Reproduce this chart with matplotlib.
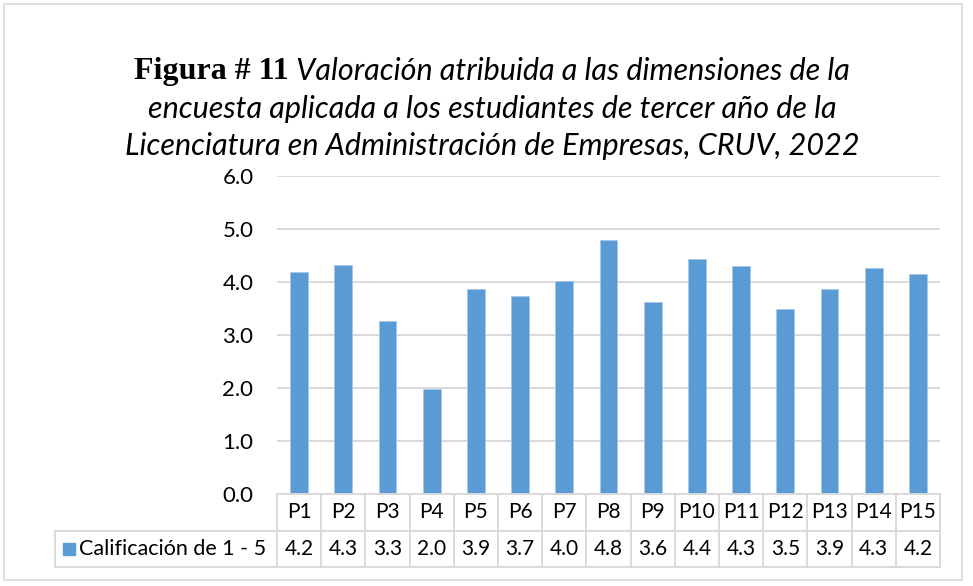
import matplotlib
matplotlib.use("Agg")
import matplotlib.pyplot as plt
import matplotlib.transforms as mtransforms
from matplotlib.lines import Line2D
from matplotlib.patches import Rectangle

# datos
preguntas = ["P1", "P2", "P3", "P4", "P5", "P6", "P7", "P8", "P9", "P10",
             "P11", "P12", "P13", "P14", "P15"]
calificacion = [4.18, 4.32, 3.26, 1.99, 3.87, 3.73, 4.02, 4.80, 3.62, 4.43,
                4.30, 3.50, 3.86, 4.26, 4.16]
serie = "Calificación de 1 - 5"
titulo_negrita = "Figura # 11"
titulo_lineas = ["Valoración atribuida a las dimensiones de la",
                 "encuesta aplicada a los estudiantes de tercer año de la",
                 "Licenciatura en Administración de Empresas, CRUV, 2022"]

W, H = 973, 586
azul = "#5B9BD5"
gris = "#D9D9D9"
fuente = "Lato"

fig = plt.figure(figsize=(W / 100, H / 100), dpi=100)
fig.patch.set_facecolor("white")

def fx(px):
    return px / W

def fy(py):
    return 1 - py / H

# marco exterior
fig.add_artist(Rectangle((fx(4), fy(580)), fx(958), 576 / H, transform=fig.transFigure,
                         fill=False, edgecolor="#D9D9D9", linewidth=1.2))

ax = fig.add_axes([fx(277), fy(494), fx(940) - fx(277), fy(176) - fy(494)])
x = list(range(len(preguntas)))
ax.bar(x, calificacion, width=0.40, color=azul, edgecolor="#A9C8EA", linewidth=0.6, zorder=3)
ax.set_xlim(-0.5, len(preguntas) - 0.5)
ax.set_ylim(0, 6)
ax.set_yticks([0, 1, 2, 3, 4, 5, 6])
ax.set_yticklabels([f"{v:.1f}" for v in range(7)], fontfamily=fuente, fontsize=16)
ax.tick_params(axis="y", length=0, pad=17)
ax.set_xticks([])
ax.grid(axis="y", color=gris, linewidth=1.4, zorder=0)
for s in ["top", "right", "left"]:
    ax.spines[s].set_visible(False)
ax.spines["bottom"].set_color(gris)
ax.spines["bottom"].set_linewidth(1.4)
ax.spines["bottom"].set_zorder(4)

# tabla de datos
tr = mtransforms.blended_transform_factory(ax.transData, fig.transFigure)
y_top, y_mid, y_bot = fy(494), fy(531), fy(567)
for i in range(len(preguntas) + 1):
    xb = i - 0.5
    fig.add_artist(Line2D([xb, xb], [y_top, y_bot], transform=tr, color=gris, linewidth=1.4))
fig.add_artist(Line2D([fx(55), fx(940)], [y_mid, y_mid], transform=fig.transFigure,
                      color=gris, linewidth=1.4))
fig.add_artist(Line2D([fx(55), fx(940)], [y_bot, y_bot], transform=fig.transFigure,
                      color=gris, linewidth=1.4))
fig.add_artist(Line2D([fx(55), fx(55)], [y_mid, y_bot], transform=fig.transFigure,
                      color=gris, linewidth=1.4))
for i, (p, v) in enumerate(zip(preguntas, calificacion)):
    fig.text(i, (y_top + y_mid) / 2, p, transform=tr, ha="center", va="center",
             fontfamily=fuente, fontsize=15)
    fig.text(i, (y_mid + y_bot) / 2, f"{v:.1f}", transform=tr, ha="center", va="center",
             fontfamily=fuente, fontsize=15)
fig.add_artist(Rectangle((fx(63), fy(555)), fx(12), 12 / H, transform=fig.transFigure,
                         color=azul))
fig.text(fx(79), (y_mid + y_bot) / 2, serie, ha="left", va="center",
         fontfamily=fuente, fontsize=15.5)

# titulo
cx = fx(492)
renderer = fig.canvas.get_renderer()
t1 = fig.text(0, fy(71), titulo_negrita, fontfamily="Liberation Serif", fontweight="bold",
              fontsize=23, va="center", ha="left")
t2 = fig.text(0, fy(71), " " + titulo_lineas[0], fontfamily=fuente, fontstyle="italic",
              fontsize=22, va="center", ha="left")
w1 = t1.get_window_extent(renderer).width / W
w2 = t2.get_window_extent(renderer).width / W
x0 = cx - (w1 + w2) / 2
t1.set_x(x0)
t2.set_x(x0 + w1)
fig.text(cx, fy(109), titulo_lineas[1], fontfamily=fuente, fontstyle="italic",
         fontsize=22, ha="center", va="center")
fig.text(cx, fy(146), titulo_lineas[2], fontfamily=fuente, fontstyle="italic",
         fontsize=22, ha="center", va="center")

fig.savefig("out.png", dpi=100)
